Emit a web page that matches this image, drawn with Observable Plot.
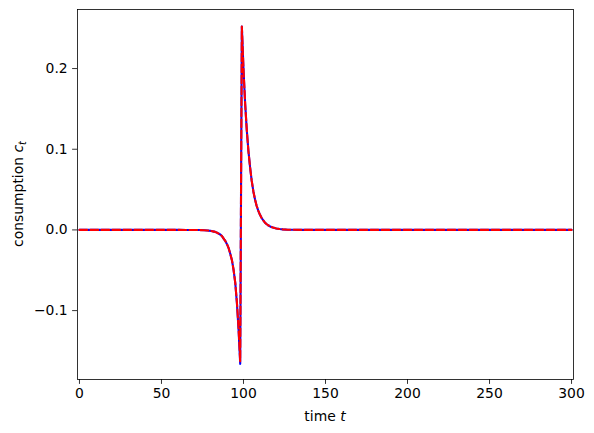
<!DOCTYPE html>
<html>
<head>
<meta charset="utf-8">
<script src="https://cdn.jsdelivr.net/npm/d3@7"></script>
<script src="https://cdn.jsdelivr.net/npm/@observablehq/plot@0.6"></script>
<style>
  html, body { margin: 0; padding: 0; background: #fff; }
  svg { font-family: "DejaVu Sans", sans-serif; }
</style>
</head>
<body>
<div id="chart"></div>
<script>
// time points (sampled where the path changes; flat zero elsewhere)
const tPts = [0, 60, 65, 70, 73, 76, 78,
  80, 81, 82, 83, 84, 85, 86, 87, 88, 89, 90, 91, 92, 93, 94, 95, 96, 97, 98, 99,
  100, 101, 102, 103, 104, 105, 106, 107, 108, 109, 110, 111, 112, 113, 114, 115,
  116, 117, 118, 119, 120, 122, 124, 127, 130, 135, 140, 300];

const cRed = [0, 0, -0.00003, -0.00008, -0.00018, -0.0004, -0.0007,
  -0.0012, -0.0016, -0.0021, -0.0027, -0.0036, -0.0047, -0.006, -0.008, -0.011, -0.014, -0.018, -0.023, -0.030, -0.038, -0.050, -0.066, -0.090, -0.122, -0.163, 0.252,
  0.199, 0.157, 0.124, 0.098, 0.078, 0.061, 0.048, 0.038, 0.030, 0.024, 0.019, 0.015, 0.012, 0.0093, 0.0073, 0.0058,
  0.0046, 0.0036, 0.0029, 0.0023, 0.0018, 0.0011, 0.0007, 0.0003, 0.00015, 0.00005, 0, 0];

const cBlue = [0, 0, -0.00003, -0.00008, -0.00018, -0.0004, -0.0007,
  -0.0012, -0.0016, -0.0021, -0.0027, -0.0036, -0.0047, -0.006, -0.008, -0.011, -0.014, -0.018, -0.023, -0.030, -0.038, -0.050, -0.066, -0.091, -0.124, -0.166, 0.252,
  0.199, 0.157, 0.124, 0.098, 0.078, 0.061, 0.048, 0.038, 0.030, 0.024, 0.019, 0.015, 0.012, 0.0093, 0.0073, 0.0058,
  0.0046, 0.0036, 0.0029, 0.0023, 0.0018, 0.0011, 0.0007, 0.0003, 0.00015, 0.00005, 0, 0];

const xTicks = [0, 50, 100, 150, 200, 250, 300];
const yTicks = [-0.1, 0.0, 0.1, 0.2];

const red = tPts.map((t, i) => ({t, c: cRed[i]}));
const blue = tPts.map((t, i) => ({t, c: cBlue[i]}));

const fmtY = d => d.toFixed(1).replace("-", "\u2212");

const svg = Plot.plot({
  width: 594,
  height: 433,
  marginLeft: 77,
  marginRight: 21,
  marginTop: 9,
  marginBottom: 54,
  style: {fontFamily: "DejaVu Sans, sans-serif", fontSize: "13.9px", color: "#000", background: "#fff"},
  x: {domain: [-1.2, 301.2], ticks: xTicks, tickSize: 4.9, tickPadding: 3.5, label: null},
  y: {domain: [-0.1854, 0.2732], ticks: yTicks, tickSize: 4.9, tickPadding: 4.9, tickFormat: fmtY, label: null},
  marks: [
    Plot.line(blue, {x: "t", y: "c", stroke: "blue", strokeWidth: 2.1, strokeLinejoin: "round"}),
    Plot.line(red, {x: "t", y: "c", stroke: "red", strokeWidth: 2.1, strokeDasharray: "7.7,3.3", strokeLinejoin: "round"}),
    Plot.frame({stroke: "#000", strokeWidth: 0.8}),
    Plot.axisX({ticks: xTicks, tickSize: 4.9, tickPadding: 3.5, label: null, stroke: "#000", strokeWidth: 0.8}),
    Plot.axisY({ticks: yTicks, tickSize: 4.9, tickPadding: 4.9, tickFormat: fmtY, label: null, stroke: "#000", strokeWidth: 0.8})
  ]
});

const s = d3.select(svg);
const xl = s.append("text")
  .attr("x", 325).attr("y", 421)
  .attr("text-anchor", "middle")
  .attr("font-size", "13.9px")
  .attr("fill", "#000");
xl.append("tspan").text("time ");
xl.append("tspan").attr("font-style", "italic").text("t");

const yl = s.append("text")
  .attr("transform", "translate(23,194) rotate(-90)")
  .attr("text-anchor", "middle")
  .attr("font-size", "13.9px")
  .attr("fill", "#000");
yl.append("tspan").text("consumption ");
yl.append("tspan").attr("font-style", "italic").text("c");
yl.append("tspan").attr("font-style", "italic").attr("font-size", "9.7px").attr("dy", "3").text("t");

document.getElementById("chart").appendChild(svg);
</script>
</body>
</html>
